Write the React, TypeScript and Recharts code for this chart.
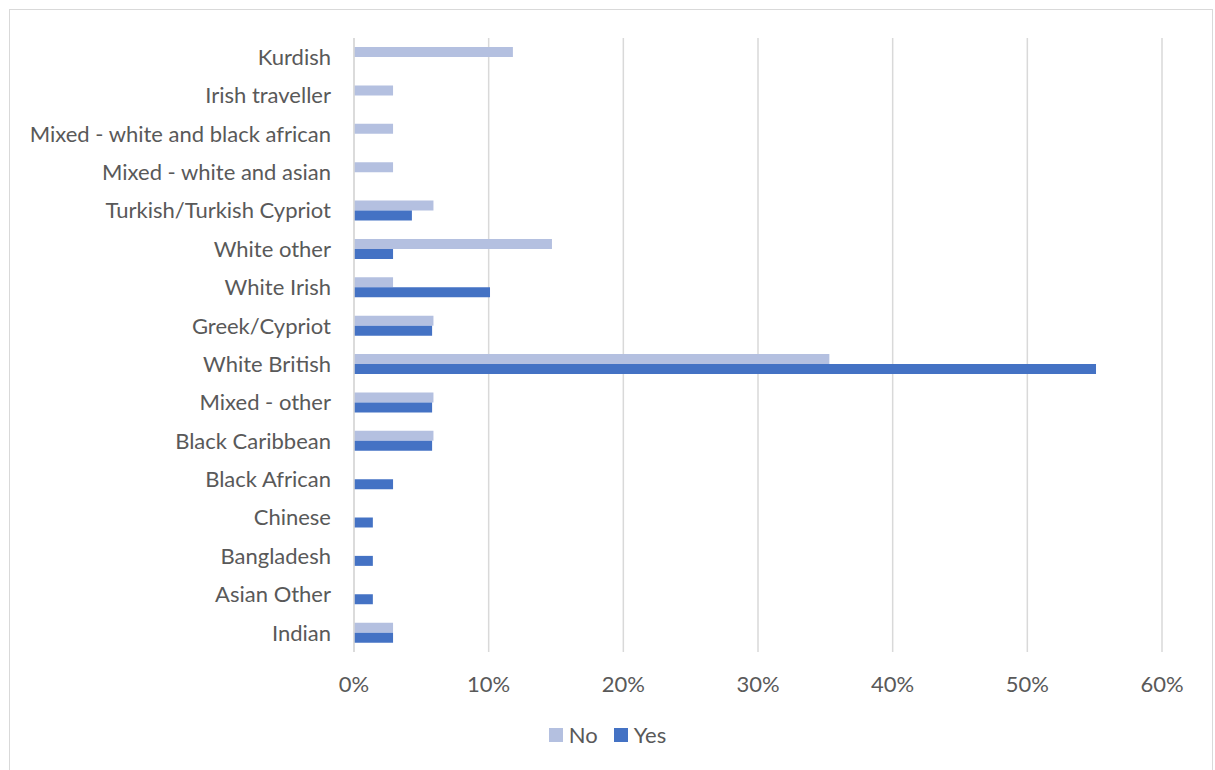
import React from 'react';
import { BarChart, Bar, XAxis, YAxis, CartesianGrid, Legend } from 'recharts';

const categories = [
  'Kurdish',
  'Irish traveller',
  'Mixed - white and black african',
  'Mixed - white and asian',
  'Turkish/Turkish Cypriot',
  'White other',
  'White Irish',
  'Greek/Cypriot',
  'White British',
  'Mixed - other',
  'Black Caribbean',
  'Black African ',
  'Chinese',
  'Bangladesh',
  'Asian Other',
  'Indian',
];

const noValues = [11.8, 2.9, 2.9, 2.9, 5.9, 14.7, 2.9, 5.9, 35.3, 5.9, 5.9, 0, 0, 0, 0, 2.9];
const yesValues = [0, 0, 0, 0, 4.3, 2.9, 10.1, 5.8, 55.1, 5.8, 5.8, 2.9, 1.4, 1.4, 1.4, 2.9];

const xTicks = [0, 10, 20, 30, 40, 50, 60];

const data = categories.map((name, i) => ({ name, No: noValues[i], Yes: yesValues[i] }));

const FONT = 'Lato, "Open Sans", sans-serif';
const TEXT = '#595959';

// legend drawn as swatch + label pairs, like the office-style legend
const renderLegend = (props: any) => (
  <div style={{ display: 'flex', justifyContent: 'center', gap: 16, fontFamily: FONT, fontSize: 22, color: TEXT }}>
    {props.payload.map((p: any) => (
      <span key={p.value} style={{ display: 'flex', alignItems: 'center' }}>
        <span style={{ width: 14, height: 14, background: p.color, display: 'inline-block', marginRight: 6 }} />
        {p.value}
      </span>
    ))}
  </div>
);

export default function App() {
  return (
    <div style={{ position: 'absolute', left: 0, top: 0, width: 1215, height: 770, background: '#fff', fontFamily: FONT }}>
      <div style={{ position: 'absolute', left: 9, top: 9, width: 1204, height: 770, border: '1px solid #D9D9D9', boxSizing: 'border-box' }} />
      <BarChart
        width={1215}
        height={770}
        data={data}
        layout="vertical"
        margin={{ top: 38, right: 53, left: 0, bottom: 50 }}
        barSize={10}
        barGap={0}
      >
        <CartesianGrid horizontal={false} stroke="#D9D9D9" strokeWidth={1.5} />
        <XAxis
          type="number"
          domain={[0, 60]}
          ticks={xTicks}
          tickFormatter={(v) => `${v}%`}
          axisLine={false}
          tickLine={false}
          tickMargin={18}
          height={40}
          tick={{ fill: TEXT, fontSize: 22, fontFamily: FONT }}
        />
        <YAxis
          type="category"
          dataKey="name"
          width={354}
          axisLine={{ stroke: '#D9D9D9', strokeWidth: 1.5 }}
          tickLine={false}
          tickMargin={17}
          interval={0}
          tick={{ fill: TEXT, fontSize: 22, fontFamily: FONT }}
        />
        <Legend
          verticalAlign="bottom"
          align="center"
          content={renderLegend}
          wrapperStyle={{ top: 721, left: 0, width: 1215, height: 28 }}
        />
        <Bar dataKey="No" fill="#B4C0E0" isAnimationActive={false} />
        <Bar dataKey="Yes" fill="#4472C4" isAnimationActive={false} />
      </BarChart>
    </div>
  );
}
